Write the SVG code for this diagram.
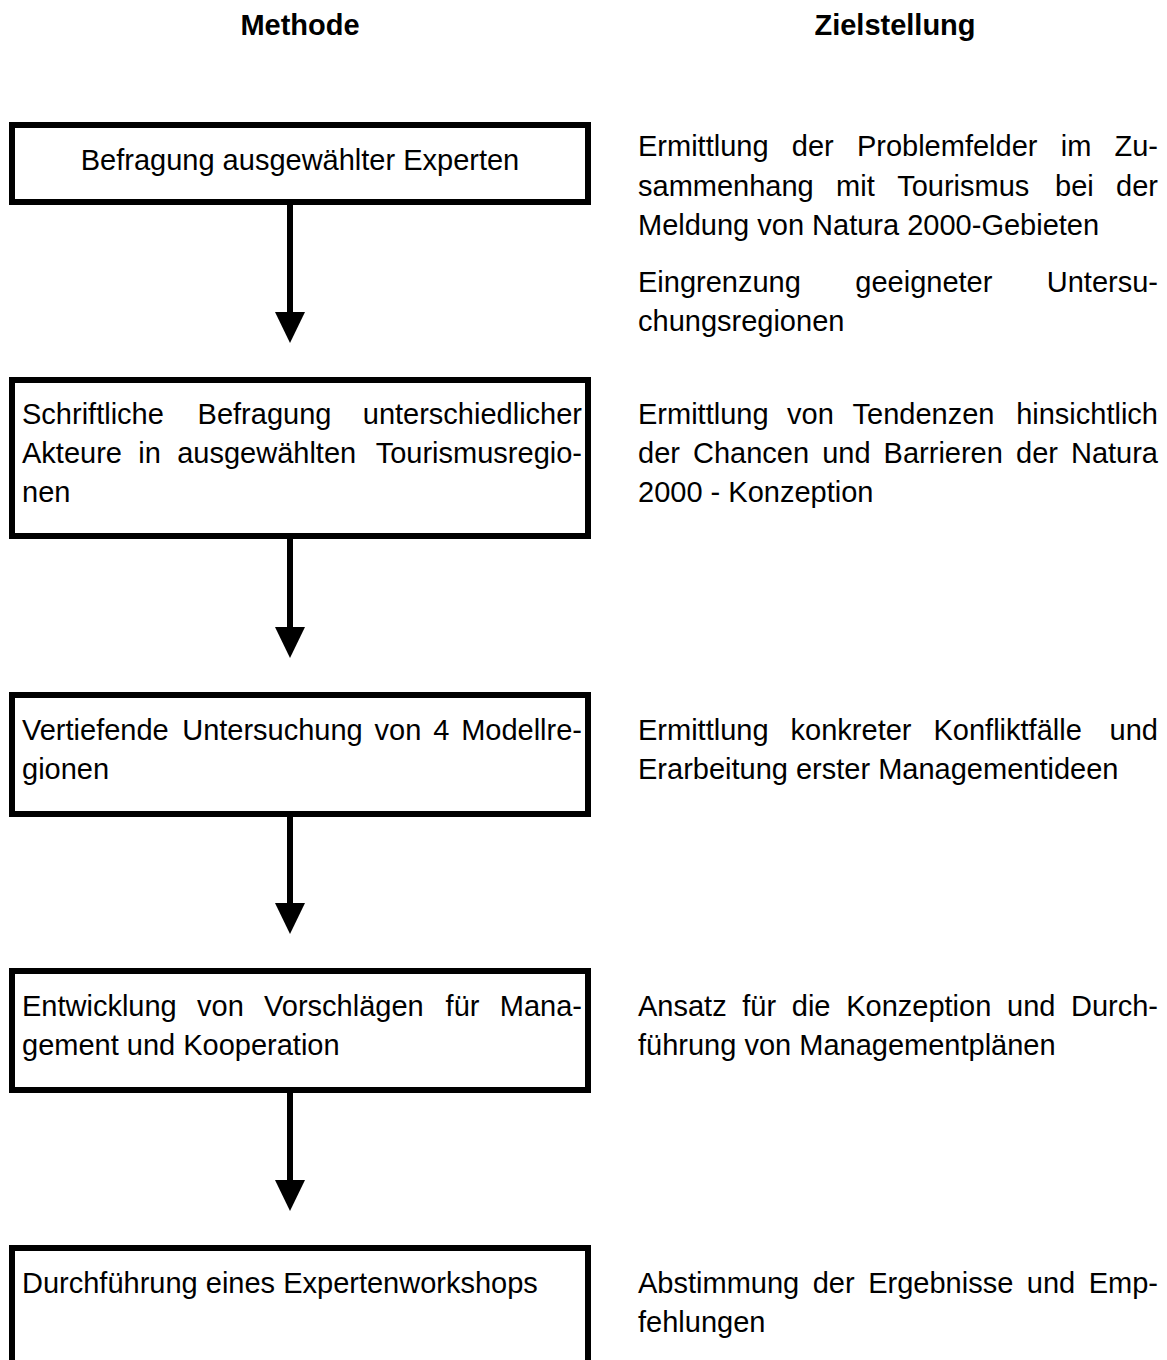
<svg xmlns="http://www.w3.org/2000/svg" width="1167" height="1360" viewBox="0 0 1167 1360">
<style>
text{font-family:"Liberation Sans",Arial,sans-serif;font-size:29px;fill:#000}
.h{font-weight:bold;text-anchor:middle}
.box{fill:#fff;stroke:#000;stroke-width:6}
.shaft{stroke:#000;stroke-width:6;fill:none}
.head{fill:#000}
.e{text-anchor:end}
</style>
<rect width="1167" height="1360" fill="#fff"/>
<g id="headers">
<text class="h" x="300" y="35">Methode</text>
<text class="h" x="895" y="35">Zielstellung</text>
</g>
<g id="connectors">
<line class="shaft" x1="290" y1="205" x2="290" y2="314"/>
<polygon class="head" points="275,312 305,312 290,343"/>
<line class="shaft" x1="290" y1="539" x2="290" y2="629"/>
<polygon class="head" points="275,627 305,627 290,658"/>
<line class="shaft" x1="290" y1="817" x2="290" y2="905"/>
<polygon class="head" points="275,903 305,903 290,934"/>
<line class="shaft" x1="290" y1="1093" x2="290" y2="1182"/>
<polygon class="head" points="275,1180 305,1180 290,1211"/>
</g>
<g id="node1">
<rect class="box" x="12" y="125" width="576" height="77"/>
<text x="300" y="170" text-anchor="middle">Befragung ausgewählter Experten</text>
</g>
<g id="node2">
<rect class="box" x="12" y="380" width="576" height="156"/>
<text y="424"><tspan x="22">Schriftliche</tspan><tspan x="197.6">Befragung</tspan><tspan x="582" class="e">unterschiedlicher</tspan></text>
<text y="463"><tspan x="22">Akteure</tspan><tspan x="138.3">in</tspan><tspan x="177.2">ausgewählten</tspan><tspan x="582" class="e">Tourismusregio-</tspan></text>
<text x="22" y="502">nen</text>
</g>
<g id="node3">
<rect class="box" x="12" y="695" width="576" height="119"/>
<text y="740"><tspan x="22">Vertiefende</tspan><tspan x="182.2">Untersuchung</tspan><tspan x="374.6">von</tspan><tspan x="433.2">4</tspan><tspan x="582" class="e">Modellre-</tspan></text>
<text x="22" y="779">gionen</text>
</g>
<g id="node4">
<rect class="box" x="12" y="971" width="576" height="119"/>
<text y="1016"><tspan x="22">Entwicklung</tspan><tspan x="197.1">von</tspan><tspan x="264.1">Vorschlägen</tspan><tspan x="445.6">für</tspan><tspan x="582" class="e">Mana-</tspan></text>
<text x="22" y="1055">gement und Kooperation</text>
</g>
<g id="node5">
<path class="box" d="M12,1370 V1248 H588 V1370"/>
<text x="22" y="1293">Durchführung eines Expertenworkshops</text>
</g>
<g id="goals">
<text y="156"><tspan x="638">Ermittlung</tspan><tspan x="791.8">der</tspan><tspan x="856.9">Problemfelder</tspan><tspan x="1060.7">im</tspan><tspan x="1158" class="e">Zu-</tspan></text>
<text y="195.5"><tspan x="638">sammenhang</tspan><tspan x="836.1">mit</tspan><tspan x="897.2">Tourismus</tspan><tspan x="1055">bei</tspan><tspan x="1158" class="e">der</tspan></text>
<text x="638" y="235">Meldung von Natura 2000-Gebieten</text>
<text y="292"><tspan x="638">Eingrenzung</tspan><tspan x="855.3">geeigneter</tspan><tspan x="1158" class="e">Untersu-</tspan></text>
<text x="638" y="331">chungsregionen</text>
<text y="424"><tspan x="638">Ermittlung</tspan><tspan x="787.1">von</tspan><tspan x="852.5">Tendenzen</tspan><tspan x="1158" class="e">hinsichtlich</tspan></text>
<text y="463"><tspan x="638">der</tspan><tspan x="693">Chancen</tspan><tspan x="822.2">und</tspan><tspan x="883.6">Barrieren</tspan><tspan x="1016">der</tspan><tspan x="1158" class="e">Natura</tspan></text>
<text x="638" y="502">2000 - Konzeption</text>
<text y="740"><tspan x="638">Ermittlung</tspan><tspan x="790.6">konkreter</tspan><tspan x="933.5">Konfliktfälle</tspan><tspan x="1158" class="e">und</tspan></text>
<text x="638" y="779">Erarbeitung erster Managementideen</text>
<text y="1016"><tspan x="638">Ansatz</tspan><tspan x="742.3">für</tspan><tspan x="791.8">die</tspan><tspan x="846.2">Konzeption</tspan><tspan x="1007">und</tspan><tspan x="1158" class="e">Durch-</tspan></text>
<text x="638" y="1055">führung von Managementplänen</text>
<text y="1293"><tspan x="638">Abstimmung</tspan><tspan x="812.7">der</tspan><tspan x="868.2">Ergebnisse</tspan><tspan x="1026.8">und</tspan><tspan x="1158" class="e">Emp-</tspan></text>
<text x="638" y="1332">fehlungen</text>
</g>
</svg>
